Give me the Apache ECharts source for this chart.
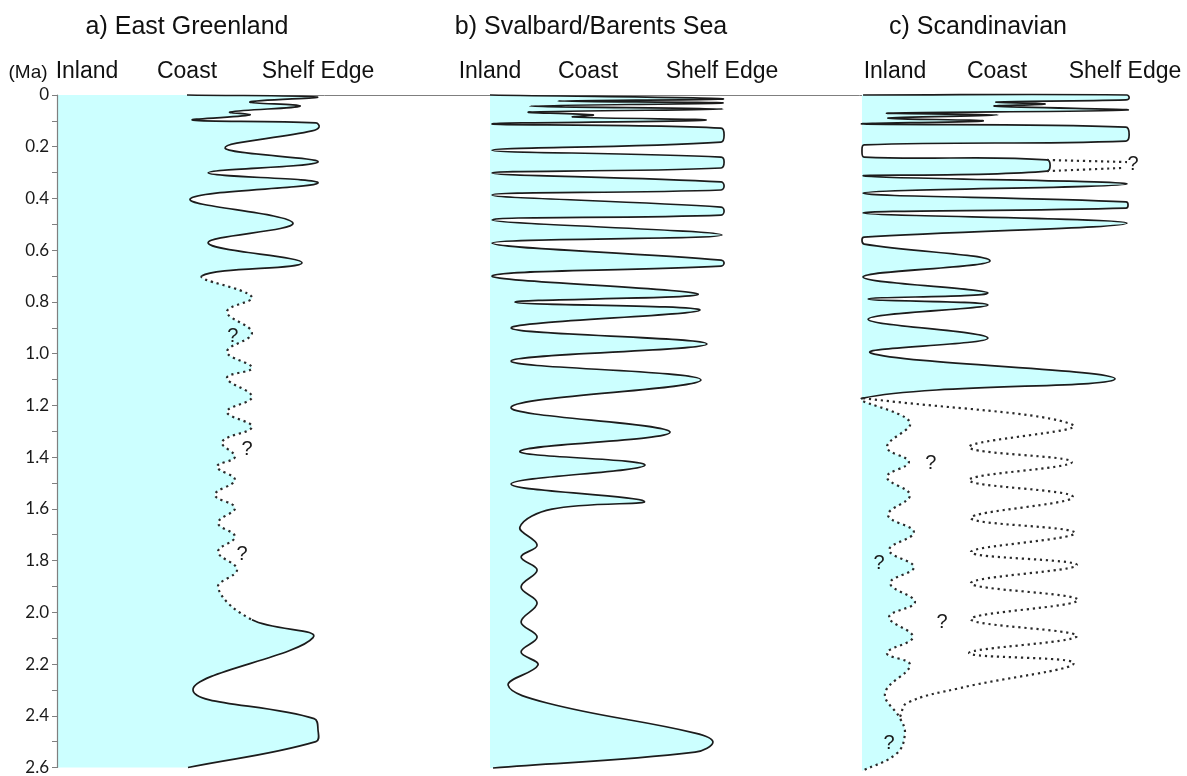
<!DOCTYPE html>
<html>
<head>
<meta charset="utf-8">
<script src="https://cdn.jsdelivr.net/npm/echarts@6/dist/echarts.min.js"></script>
<style>
html,body{margin:0;padding:0;background:#ffffff;}
#chart{width:1187px;height:776px;}
</style>
</head>
<body>
<div id="chart"></div>
<script>
// ---------------- DATA (extent: 0 = inland edge of panel, 100 = shelf edge; age in Ma) ----------------
const panelTitles = ['a) East Greenland', 'b) Svalbard/Barents Sea', 'c) Scandinavian'];
const zoneLabels = ['Inland', 'Coast', 'Shelf Edge'];
const ageUnit = '(Ma)';
const ageTickLabels = ['0', '0.2', '0.4', '0.6', '0.8', '1.0', '1.2', '1.4', '1.6', '1.8', '2.0', '2.2', '2.4', '2.6'];

// a) East Greenland
const egSolidUpper = [
  [49.8, 0.000], [99.6, 0.008], [73.9, 0.027], [93.1, 0.043], [66.3, 0.066], [73.9, 0.077],
  [52.1, 0.097], [99.2, 0.108], [100.4, 0.124], [97.7, 0.139], [64.4, 0.205], [100.0, 0.259],
  [57.9, 0.301], [100.0, 0.340], [51.0, 0.402], [90.4, 0.495], [57.9, 0.572], [93.9, 0.649],
  [55.6, 0.699]
];
const egDotted = [
  [55.6, 0.699], [74.7, 0.781], [65.1, 0.838], [74.7, 0.920], [65.1, 0.993], [74.7, 1.055],
  [65.1, 1.094], [74.7, 1.167], [65.1, 1.225], [74.7, 1.283], [63.2, 1.341], [68.2, 1.399],
  [61.3, 1.437], [68.2, 1.488], [60.5, 1.546], [68.2, 1.596], [61.7, 1.654], [68.2, 1.708],
  [61.7, 1.766], [69.0, 1.835], [61.7, 1.905], [74.7, 2.029]
];
const egSolidLower = [
  [74.7, 2.029], [98.1, 2.098], [52.1, 2.299], [98.5, 2.411], [100.0, 2.454], [99.2, 2.500],
  [50.2, 2.600]
];
const egQuestions = [[67.4, 0.935], [72.8, 1.372], [70.9, 1.777]];

// b) Svalbard/Barents Sea
const sbCurve = [
  [0.0, 0.000], [100.4, 0.015], [29.3, 0.023], [100.4, 0.031], [17.2, 0.043], [100.4, 0.054],
  [17.2, 0.066], [44.4, 0.077], [35.8, 0.085], [92.7, 0.097], [0.9, 0.112],
  [99.6, 0.128], [100.9, 0.155], [99.6, 0.182], [0.9, 0.213],
  [99.6, 0.240], [100.9, 0.259], [99.6, 0.282], [0.9, 0.301],
  [99.6, 0.336], [100.9, 0.352], [99.6, 0.367], [0.9, 0.386],
  [99.6, 0.433], [100.9, 0.448], [99.6, 0.464], [0.9, 0.483],
  [100.0, 0.541], [0.9, 0.572],
  [99.6, 0.638], [100.9, 0.649], [99.6, 0.661], [0.9, 0.699],
  [89.7, 0.769], [10.8, 0.800], [90.5, 0.831], [9.1, 0.900], [93.5, 0.962], [9.1, 1.028],
  [90.9, 1.101], [9.1, 1.206], [77.6, 1.302], [12.9, 1.376], [66.8, 1.430], [9.1, 1.503],
  [66.4, 1.569], [26.7, 1.600], [12.9, 1.669],
  [20.3, 1.739], [13.4, 1.785], [20.3, 1.835], [13.4, 1.901], [20.3, 1.963], [13.4, 2.036],
  [20.3, 2.094], [13.4, 2.152], [20.7, 2.202], [7.8, 2.280], [24.6, 2.349],
  [88.4, 2.465], [96.1, 2.500], [88.4, 2.539], [1.3, 2.600]
];

// c) Scandinavian
const scSolid = [
  [0.4, 0.000], [100.0, 0.000], [100.8, 0.012], [99.6, 0.019], [50.9, 0.027], [69.1, 0.035],
  [50.2, 0.043], [100.0, 0.058], [9.8, 0.070], [51.3, 0.077], [9.8, 0.089], [45.7, 0.100],
  [0.4, 0.112], [99.6, 0.124], [100.8, 0.155], [99.6, 0.178], [0.8, 0.193], [0.0, 0.216],
  [0.8, 0.240], [69.8, 0.251], [69.8, 0.294], [0.8, 0.313], [100.0, 0.344], [0.4, 0.379],
  [99.6, 0.413], [100.4, 0.425], [99.6, 0.437], [0.4, 0.456], [100.0, 0.495], [0.8, 0.549],
  [0.0, 0.560], [0.8, 0.576], [48.3, 0.641], [0.4, 0.703], [47.5, 0.765], [2.3, 0.788],
  [47.5, 0.811], [2.3, 0.866], [47.5, 0.939], [3.4, 0.997], [95.5, 1.097], [0.4, 1.171]
];
const scInnerDotted = [
  [0.4, 1.171], [18.1, 1.264], [9.4, 1.360], [17.7, 1.418], [9.4, 1.476], [18.1, 1.546],
  [9.8, 1.623], [19.6, 1.689], [10.2, 1.758], [19.6, 1.824], [10.6, 1.886], [20.0, 1.959],
  [10.2, 2.017], [19.2, 2.094], [9.4, 2.156], [18.1, 2.202], [8.7, 2.311], [14.3, 2.407],
  [16.2, 2.465], [13.2, 2.543], [0.0, 2.612]
];
const scOuterDotted = [
  [0.4, 1.171], [79.6, 1.275], [40.4, 1.360], [79.2, 1.418], [40.4, 1.488], [79.6, 1.553],
  [41.1, 1.634], [80.4, 1.692], [41.1, 1.766], [81.1, 1.816], [41.1, 1.886], [81.5, 1.951],
  [41.1, 2.025], [81.1, 2.090], [40.4, 2.156], [80.0, 2.195], [37.0, 2.291], [17.0, 2.349],
  [14.3, 2.403]
];
const scQueryUpper = [[69.8, 0.251], [100.0, 0.259]];
const scQueryLower = [[69.8, 0.294], [98.1, 0.282]];
const scQuestions = [[102.3, 0.270], [26.0, 1.422], [6.4, 1.808], [30.2, 2.036], [10.2, 2.504]];

// ---------------- STYLE / LAYOUT ----------------
const FILL = '#ccffff';
const INK = '#1c1c1c';
const AXIS_GREY = '#7f7f7f';
const SMOOTH = 0.4;
const SOLID = { stroke: INK, lineWidth: 1.7, fill: 'none' };
const DOTTED = { stroke: '#2a2a2a', lineWidth: 2.2, fill: 'none', lineDash: [2.2, 3.8] };
const LABEL_FONT = '"Liberation Sans", Arial, sans-serif';

const fmt = p => p[0].toFixed(2) + ' ' + p[1].toFixed(2);
function bezierSegments(pts, s) {
  const n = pts.length, cp = [];
  for (let i = 0; i < n; i++) {
    const p = pts[i], a = pts[i > 0 ? i - 1 : i], b = pts[i < n - 1 ? i + 1 : i];
    const vx = b[0] - a[0], vy = b[1] - a[1];
    const d0 = Math.hypot(p[0] - a[0], p[1] - a[1]);
    const d1 = Math.hypot(b[0] - p[0], b[1] - p[1]);
    const sum = (d0 + d1) || 1;
    cp.push([[p[0] - vx * s * d0 / sum, p[1] - vy * s * d0 / sum],
             [p[0] + vx * s * d1 / sum, p[1] + vy * s * d1 / sum]]);
  }
  const segs = [];
  for (let i = 1; i < n; i++) segs.push([pts[i - 1], cp[i - 1][1], cp[i][0], pts[i]]);
  return segs;
}
function pathOf(segs, from, to) {
  let d = 'M' + fmt(segs[from][0]);
  for (let i = from; i < to; i++) d += 'C' + fmt(segs[i][1]) + ' ' + fmt(segs[i][2]) + ' ' + fmt(segs[i][3]);
  return d;
}

function panelSeries(idx, parts, extras, questions) {
  return {
    type: 'custom', coordinateSystem: 'cartesian2d', xAxisIndex: idx, yAxisIndex: idx,
    data: [[0, 0]], silent: true, z: 2, animation: false,
    renderItem: function (params, api) {
      const all = [], ranges = [];
      parts.forEach((part, k) => {
        const start = all.length ? all.length - 1 : 0;
        part.pts.forEach((p, j) => { if (k > 0 && j === 0) return; all.push(api.coord(p)); });
        ranges.push([start, all.length - 1, part.style]);
      });
      const segs = bezierSegments(all, SMOOTH);
      const first = parts[0].pts[0];
      const lastPart = parts[parts.length - 1].pts;
      const last = lastPart[lastPart.length - 1];
      const top = api.coord([0, first[1]]);
      const bot = api.coord([0, last[1]]);
      const fillD = 'M' + fmt(top) + 'L' + pathOf(segs, 0, segs.length).slice(1) + 'L' + fmt(bot) + 'Z';
      const children = [{ type: 'path', shape: { pathData: fillD }, style: { fill: FILL, stroke: 'none', lineWidth: 0 } }];
      ranges.forEach(r => {
        children.push({ type: 'path', shape: { pathData: pathOf(segs, r[0], r[1]) }, style: Object.assign({}, r[2]) });
      });
      extras.forEach(ex => {
        const px = ex.pts.map(p => api.coord(p));
        const sg = bezierSegments(px, ex.smooth);
        children.push({ type: 'path', shape: { pathData: pathOf(sg, 0, sg.length) }, style: Object.assign({}, ex.style) });
      });
      questions.forEach(q => {
        const c = api.coord(q);
        children.push({ type: 'text', x: c[0], y: c[1], style: {
          text: '?', fill: '#1a1a1a', font: '20px ' + LABEL_FONT,
          textAlign: 'center', textVerticalAlign: 'middle', align: 'center', verticalAlign: 'middle' } });
      });
      return { type: 'group', children: children };
    }
  };
}

const gridTop = 95, gridHeight = 673;
const panels = [
  { left: 57, width: 261 },
  { left: 490, width: 232 },
  { left: 862, width: 265 }
];
const grids = panels.map(p => ({ left: p.left, width: p.width, top: gridTop, height: gridHeight }));
grids.push({ left: 57, width: 1070, top: gridTop, height: gridHeight });

const xAxes = grids.map((g, i) => ({
  type: 'value', gridIndex: i, min: 0, max: 100, position: 'top',
  show: i === 3,
  axisLine: { show: i === 3, onZero: false, lineStyle: { color: AXIS_GREY, width: 1 } },
  axisTick: { show: false }, axisLabel: { show: false }, splitLine: { show: false }
}));
const yAxes = grids.map((g, i) => ({
  type: 'value', gridIndex: i, min: 0, max: 2.6, interval: 0.2, inverse: true,
  show: i === 0, z: 5,
  axisLine: { show: true, onZero: false, lineStyle: { color: AXIS_GREY, width: 1.2 } },
  axisTick: { show: true, length: 5, lineStyle: { color: AXIS_GREY } },
  minorTick: { show: true, splitNumber: 2, length: 5, lineStyle: { color: AXIS_GREY } },
  splitLine: { show: false },
  axisLabel: {
    show: true, margin: 8, color: '#1a1a1a', fontSize: 17, fontFamily: 'Lato',
    formatter: v => ageTickLabels[Math.round(v / 0.2)] || ''
  }
}));

function text(x, y, str, size) {
  return { type: 'text', x: x, y: y, silent: true, style: {
    text: str, fill: '#111', font: size + 'px ' + LABEL_FONT,
    textAlign: 'center', textVerticalAlign: 'middle', align: 'center', verticalAlign: 'middle' } };
}
const titleX = [187, 591, 978];
const zoneX = [[87, 187, 318], [490, 588, 722], [895, 997, 1125]];
const graphics = [];
panelTitles.forEach((t, i) => graphics.push(text(titleX[i], 27, t, 25)));
zoneX.forEach(xs => xs.forEach((x, j) => graphics.push(text(x, 72, zoneLabels[j], 23))));
graphics.push(text(28, 73, ageUnit, 19));

const chart = echarts.init(document.getElementById('chart'), null, { renderer: 'canvas' });
chart.setOption({
  animation: false,
  backgroundColor: '#ffffff',
  grid: grids,
  xAxis: xAxes,
  yAxis: yAxes,
  graphic: { elements: graphics },
  series: [
    panelSeries(0, [
      { pts: egSolidUpper, style: SOLID },
      { pts: egDotted, style: DOTTED },
      { pts: egSolidLower, style: SOLID }
    ], [], egQuestions),
    panelSeries(1, [{ pts: sbCurve, style: SOLID }], [], []),
    panelSeries(2, [
      { pts: scSolid, style: SOLID },
      { pts: scInnerDotted, style: DOTTED }
    ], [
      { pts: scOuterDotted, style: DOTTED, smooth: SMOOTH },
      { pts: scQueryUpper, style: DOTTED, smooth: 0 },
      { pts: scQueryLower, style: DOTTED, smooth: 0 }
    ], scQuestions)
  ]
});
</script>
</body>
</html>
